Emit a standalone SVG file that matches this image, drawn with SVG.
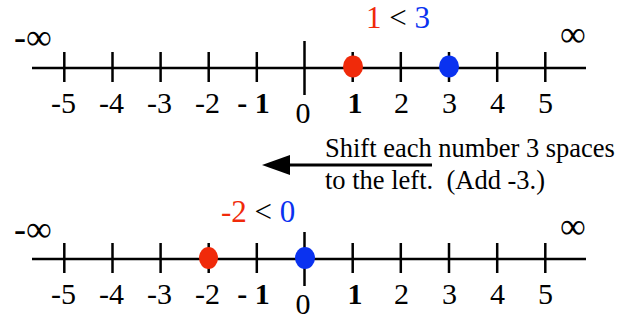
<svg xmlns="http://www.w3.org/2000/svg" width="627" height="324" viewBox="0 0 627 324">
<style>
.ax{stroke:#000;stroke-width:2.6;fill:none}
.tk{stroke:#000;stroke-width:2.5}
.num{font-family:"Liberation Serif","Times New Roman",serif;font-size:30px;fill:#000;text-anchor:middle}
.b{font-weight:bold}
.inf{font-family:"Liberation Serif","Times New Roman",serif;font-size:36px;fill:#000}
.ttl{font-family:"Liberation Serif","Times New Roman",serif;font-size:31px}
.red{fill:#f02a0a}
.blue{fill:#0a32f0}
.note{font-family:"Liberation Serif","Times New Roman",serif;font-size:26.5px;fill:#000;white-space:pre}
</style>
<defs>
<g id="ticks">
<line class="tk" x1="64.3" y1="-16" x2="64.3" y2="14"/>
<line class="tk" x1="112.5" y1="-16" x2="112.5" y2="14"/>
<line class="tk" x1="160.6" y1="-16" x2="160.6" y2="14"/>
<line class="tk" x1="208.7" y1="-16" x2="208.7" y2="14"/>
<line class="tk" x1="256.8" y1="-16" x2="256.8" y2="14"/>
<line class="tk" x1="304.5" y1="-27" x2="304.5" y2="27"/>
<line class="tk" x1="352.7" y1="-16" x2="352.7" y2="14"/>
<line class="tk" x1="400.8" y1="-16" x2="400.8" y2="14"/>
<line class="tk" x1="449" y1="-16" x2="449" y2="14"/>
<line class="tk" x1="497.2" y1="-16" x2="497.2" y2="14"/>
<line class="tk" x1="545.3" y1="-16" x2="545.3" y2="14"/>
</g>
<g id="labels">
<text class="num" x="63.5" y="0">-5</text>
<text class="num" x="111.5" y="0">-4</text>
<text class="num" x="159.5" y="0">-3</text>
<text class="num" x="207.5" y="0">-2</text>
<text class="num b" x="253.5" y="0">- 1</text>
<text class="num" x="303" y="10">0</text>
<text class="num b" x="355" y="0">1</text>
<text class="num" x="401.5" y="0">2</text>
<text class="num" x="449.5" y="0">3</text>
<text class="num" x="497.5" y="0">4</text>
<text class="num" x="545.5" y="0">5</text>
</g>
</defs>
<g id="top-line">
<line class="ax" x1="32" y1="68" x2="586" y2="68"/>
<use href="#ticks" transform="translate(0,68)"/>
<use href="#labels" transform="translate(0,113)"/>
<text class="inf" x="14" y="49">-<tspan x="26">∞</tspan></text>
<text class="inf" x="560" y="46">∞</text>
<ellipse class="red" cx="353" cy="66.5" rx="10" ry="11"/>
<ellipse class="blue" cx="449" cy="66.5" rx="10" ry="11"/>
<text class="ttl" x="366" y="28"><tspan class="red">1</tspan><tspan fill="#000"> &lt; </tspan><tspan class="blue">3</tspan></text>
</g>
<g id="bottom-line">
<line class="ax" x1="32" y1="259" x2="586" y2="259"/>
<use href="#ticks" transform="translate(0,259)"/>
<use href="#labels" transform="translate(0,304)"/>
<text class="inf" x="14" y="241">-<tspan x="26">∞</tspan></text>
<text class="inf" x="560" y="238">∞</text>
<ellipse class="red" cx="208.5" cy="258" rx="9.5" ry="11"/>
<ellipse class="blue" cx="305" cy="258" rx="10" ry="11"/>
<text class="ttl" x="221" y="222"><tspan class="red">-2</tspan><tspan fill="#000"> &lt; </tspan><tspan class="blue">0</tspan></text>
</g>
<g id="connectors">
<line x1="288" y1="165" x2="432" y2="165" stroke="#000" stroke-width="3"/>
<polygon points="262,165 290,155 290,175" fill="#000"/>
</g>
<g id="note">
<text class="note" x="325" y="157">Shift each number 3 spaces</text>
<text class="note" x="325" y="189">to the left.  (Add -3.)</text>
</g>
</svg>
